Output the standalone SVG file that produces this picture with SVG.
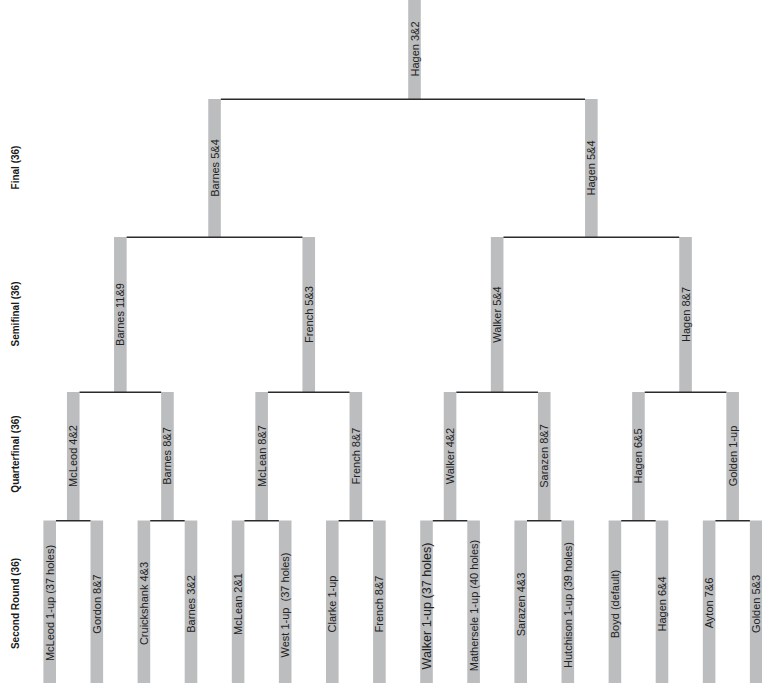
<svg xmlns="http://www.w3.org/2000/svg" width="762" height="689" viewBox="0 0 762 689">
<style>
.bar{fill:#bcbdbf}
.ln{stroke:#2b2b2b;stroke-width:1.4;fill:none}
.t{font-family:"Liberation Sans",Arial,sans-serif;font-size:11px;fill:#222;text-anchor:middle;dominant-baseline:central}
.big{font-size:12.6px}
.lab{font-family:"Liberation Sans",Arial,sans-serif;font-size:10px;font-weight:bold;fill:#1a1a1a;text-anchor:middle;dominant-baseline:central}
</style>
<rect width="762" height="689" fill="#ffffff"/>
<g id="round-labels">
<text class="lab" transform="translate(15,167.5) rotate(-90)">Final (36)</text>
<text class="lab" transform="translate(15,314) rotate(-90)">Semifinal (36)</text>
<text class="lab" transform="translate(15,454) rotate(-90)">Quarterfinal (36)</text>
<text class="lab" transform="translate(15,603.5) rotate(-90)">Second Round (36)</text>
</g>
<g id="champion"><rect class="bar" x="408.2" y="0" width="12.6" height="99"/><text class="t" transform="translate(414.5,49) rotate(-90)">Hagen 3&amp;2</text></g>
<g id="f1"><rect class="bar" x="208.25" y="99" width="12.6" height="138"/><text class="t" transform="translate(214.55,168) rotate(-90)">Barnes 5&amp;4</text></g>
<g id="f2"><rect class="bar" x="585.05" y="99" width="12.6" height="138"/><text class="t" transform="translate(591.35,168) rotate(-90)">Hagen 5&amp;4</text></g>
<g id="sf1"><rect class="bar" x="114.05" y="237" width="12.6" height="155"/><text class="t" transform="translate(120.35,314.5) rotate(-90)">Barnes 11&amp;9</text></g>
<g id="sf2"><rect class="bar" x="302.45" y="237" width="12.6" height="155"/><text class="t" transform="translate(308.75,314.5) rotate(-90)">French 5&amp;3</text></g>
<g id="sf3"><rect class="bar" x="490.85" y="237" width="12.6" height="155"/><text class="t" transform="translate(497.15,314.5) rotate(-90)">Walker 5&amp;4</text></g>
<g id="sf4"><rect class="bar" x="679.25" y="237" width="12.6" height="155"/><text class="t" transform="translate(685.55,314.5) rotate(-90)">Hagen 8&amp;7</text></g>
<g id="qf1"><rect class="bar" x="66.95" y="392" width="12.6" height="128.5"/><text class="t" transform="translate(73.25,456) rotate(-90)">McLeod 4&amp;2</text></g>
<g id="qf2"><rect class="bar" x="161.15" y="392" width="12.6" height="128.5"/><text class="t" transform="translate(167.45,456) rotate(-90)">Barnes 8&amp;7</text></g>
<g id="qf3"><rect class="bar" x="255.35" y="392" width="12.6" height="128.5"/><text class="t" transform="translate(261.65,456) rotate(-90)">McLean 8&amp;7</text></g>
<g id="qf4"><rect class="bar" x="349.55" y="392" width="12.6" height="128.5"/><text class="t" transform="translate(355.85,456) rotate(-90)">French 8&amp;7</text></g>
<g id="qf5"><rect class="bar" x="443.75" y="392" width="12.6" height="128.5"/><text class="t" transform="translate(450.05,456) rotate(-90)">Walker 4&amp;2</text></g>
<g id="qf6"><rect class="bar" x="537.95" y="392" width="12.6" height="128.5"/><text class="t" transform="translate(544.25,456) rotate(-90)">Sarazen 8&amp;7</text></g>
<g id="qf7"><rect class="bar" x="632.15" y="392" width="12.6" height="128.5"/><text class="t" transform="translate(638.45,456) rotate(-90)">Hagen 6&amp;5</text></g>
<g id="qf8"><rect class="bar" x="726.35" y="392" width="12.6" height="128.5"/><text class="t" transform="translate(732.65,456) rotate(-90)">Golden 1-up</text></g>
<g id="sr1"><rect class="bar" x="43.4" y="520.5" width="12.6" height="162.5"/><text class="t" transform="translate(49.7,603) rotate(-90)">McLeod 1-up (37 holes)</text></g>
<g id="sr2"><rect class="bar" x="90.5" y="520.5" width="12.6" height="162.5"/><text class="t" transform="translate(96.8,604) rotate(-90)">Gordon 8&amp;7</text></g>
<g id="sr3"><rect class="bar" x="137.6" y="520.5" width="12.6" height="162.5"/><text class="t" transform="translate(143.9,603.5) rotate(-90)">Cruickshank 4&amp;3</text></g>
<g id="sr4"><rect class="bar" x="184.7" y="520.5" width="12.6" height="162.5"/><text class="t" transform="translate(191,604) rotate(-90)">Barnes 3&amp;2</text></g>
<g id="sr5"><rect class="bar" x="231.8" y="520.5" width="12.6" height="162.5"/><text class="t" transform="translate(238.1,604) rotate(-90)">McLean 2&amp;1</text></g>
<g id="sr6"><rect class="bar" x="278.9" y="520.5" width="12.6" height="162.5"/><text class="t" style="white-space:pre" transform="translate(285.2,605) rotate(-90)">West 1-up  (37 holes)</text></g>
<g id="sr7"><rect class="bar" x="326" y="520.5" width="12.6" height="162.5"/><text class="t" transform="translate(332.3,604) rotate(-90)">Clarke 1-up</text></g>
<g id="sr8"><rect class="bar" x="373.1" y="520.5" width="12.6" height="162.5"/><text class="t" transform="translate(379.4,604) rotate(-90)">French 8&amp;7</text></g>
<g id="sr9"><rect class="bar" x="420.2" y="520.5" width="12.6" height="162.5"/><text class="t big" transform="translate(426.5,606) rotate(-90)">Walker 1-up (37 holes)</text></g>
<g id="sr10"><rect class="bar" x="467.3" y="520.5" width="12.6" height="162.5"/><text class="t" transform="translate(473.6,605.5) rotate(-90)">Mathersele 1-up (40 holes)</text></g>
<g id="sr11"><rect class="bar" x="514.4" y="520.5" width="12.6" height="162.5"/><text class="t" transform="translate(520.7,604.5) rotate(-90)">Sarazen 4&amp;3</text></g>
<g id="sr12"><rect class="bar" x="561.5" y="520.5" width="12.6" height="162.5"/><text class="t" transform="translate(567.8,605) rotate(-90)">Hutchison 1-up (39 holes)</text></g>
<g id="sr13"><rect class="bar" x="608.6" y="520.5" width="12.6" height="162.5"/><text class="t" transform="translate(614.9,604) rotate(-90)">Boyd (default)</text></g>
<g id="sr14"><rect class="bar" x="655.7" y="520.5" width="12.6" height="162.5"/><text class="t" transform="translate(662,604) rotate(-90)">Hagen 6&amp;4</text></g>
<g id="sr15"><rect class="bar" x="702.8" y="520.5" width="12.6" height="162.5"/><text class="t" transform="translate(709.1,603) rotate(-90)">Ayton 7&amp;6</text></g>
<g id="sr16"><rect class="bar" x="749.9" y="520.5" width="12.6" height="162.5"/><text class="t" transform="translate(756.2,604) rotate(-90)">Golden 5&amp;3</text></g>
<g id="connectors">
<path class="ln" d="M220.85 99.3H585.05"/>
<path class="ln" d="M126.65 237.3H302.45M503.45 237.3H679.25"/>
<path class="ln" d="M79.55 392.3H161.15M267.95 392.3H349.55M456.35 392.3H537.95M644.75 392.3H726.35"/>
<path class="ln" d="M56 520.7H90.5M150.2 520.7H184.7M244.4 520.7H278.9M338.6 520.7H373.1M432.8 520.7H467.3M527 520.7H561.5M621.2 520.7H655.7M715.4 520.7H749.9"/>
</g>
</svg>
